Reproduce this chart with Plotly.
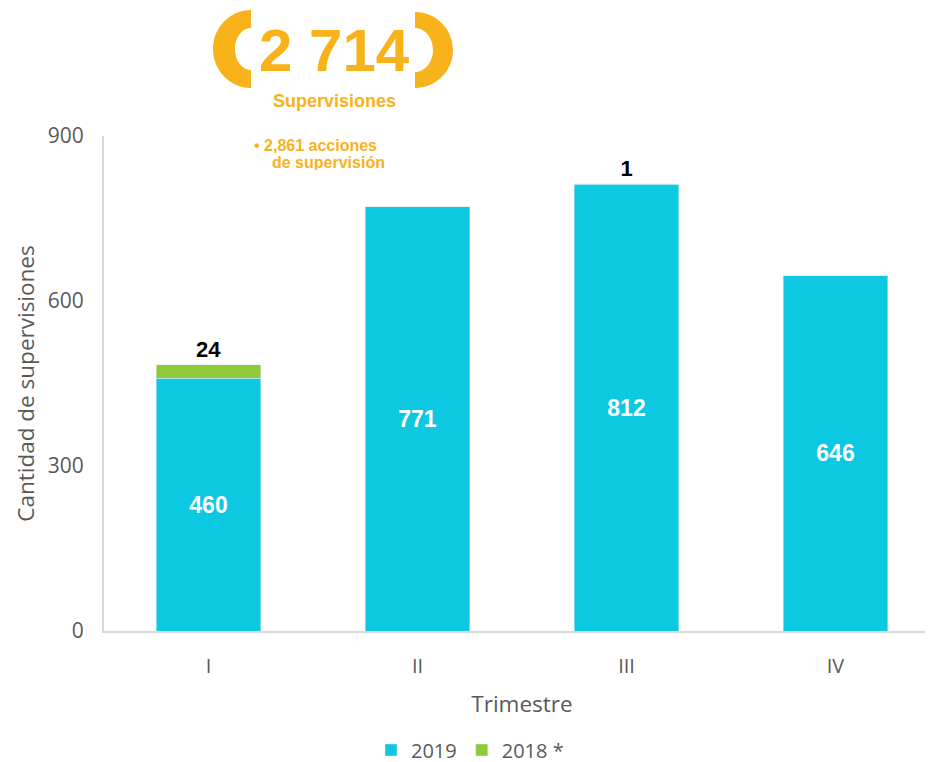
import plotly.graph_objects as go

categories = ["I", "II", "III", "IV"]
values_2019 = [460, 771, 812, 646]
values_2018 = [24, 0, 1, 0]
labels_2018 = ["24", "", "1", ""]
y_ticks = [0, 300, 600, 900]
headline = "2 714"
headline_sub = "Supervisiones"
note_lines = ["• 2,861 acciones", "de supervisión"]

CYAN = "#0CC8E0"
GREEN = "#8CCB3A"
ORANGE = "#F8B21A"
GRAY = "#595959"

W, H = 933, 762
OFF = 8  # page body margin
# plot area in page pixels: x 104..940, y 136..631
ML = 104 - OFF
MT = 136 - OFF
MB = H - (631 - OFF)
MR = W - (940 - OFF)
PW, PH = W - ML - MR, H - MT - MB


def px(x):
    return (x - OFF - ML) / PW


def py(y):
    return (H - MB - (y - OFF)) / PH


def bracket(cx, cy, orx, ory, irx, iry, side):
    k = 0.5523
    s = -1 if side == "left" else 1

    def P(x, y):
        return f"{px(x):.5f},{py(y):.5f}"
    d = (f"M {P(cx, cy - ory)} "
         f"C {P(cx + s*k*orx, cy - ory)} {P(cx + s*orx, cy - k*ory)} {P(cx + s*orx, cy)} "
         f"C {P(cx + s*orx, cy + k*ory)} {P(cx + s*k*orx, cy + ory)} {P(cx, cy + ory)} "
         f"L {P(cx, cy + iry)} "
         f"C {P(cx + s*k*irx, cy + iry)} {P(cx + s*irx, cy + k*iry)} {P(cx + s*irx, cy)} "
         f"C {P(cx + s*irx, cy - k*iry)} {P(cx + s*k*irx, cy - iry)} {P(cx, cy - iry)} Z")
    return dict(type="path", path=d, xref="paper", yref="paper",
                fillcolor=ORANGE, line=dict(width=0), layer="above")


fig = go.Figure()
fig.add_trace(go.Bar(
    x=categories, y=values_2019, name="2019", marker_color=CYAN,
    text=[str(v) for v in values_2019], textposition="inside",
    insidetextanchor="middle",
    textfont=dict(family="Liberation Sans", size=23, color="white",
                  weight="bold"),
    hoverinfo="skip",
))
fig.add_trace(go.Bar(
    x=categories, y=values_2018, name="2018 *", marker_color=GREEN,
    text=labels_2018, textposition="outside",
    textfont=dict(family="Liberation Sans", size=22, color="black",
                  weight="bold"),
    cliponaxis=False, hoverinfo="skip",
))

annotations = [
    dict(text=f"<b>{headline}</b>", x=px(334), y=py(50), xref="paper",
         yref="paper", showarrow=False, xanchor="center", yanchor="middle",
         font=dict(family="Liberation Sans", size=60, color=ORANGE)),
    dict(text=f"<b>{headline_sub}</b>", x=px(334), y=py(101), xref="paper",
         yref="paper", showarrow=False, xanchor="center", yanchor="middle",
         font=dict(family="Liberation Sans", size=18, color=ORANGE)),
]
note_x = [252, 270]
for i, line in enumerate(note_lines):
    annotations.append(dict(
        text=f"<b>{line}</b>",
        x=px(note_x[i]), y=py(145 + 17 * i), xref="paper", yref="paper",
        showarrow=False, xanchor="left", yanchor="middle", align="left",
        height=16, valign="middle",
        font=dict(family="Liberation Sans", size=16, color=ORANGE)))

fig.update_layout(
    width=W, height=H,
    margin=dict(l=ML, r=MR, t=MT, b=MB),
    barmode="stack", bargap=0.5,
    plot_bgcolor="white", paper_bgcolor="white",
    font=dict(family="Open Sans", color=GRAY),
    showlegend=True,
    legend=dict(orientation="h", x=px(470), xanchor="center", y=py(750),
                yanchor="middle", font=dict(size=20, color=GRAY),
                traceorder="normal", itemwidth=30),
    xaxis=dict(range=[-0.5, 3.5], showline=True, linecolor="#D9D9D9",
               linewidth=2, ticks="", tickfont=dict(size=20, color=GRAY),
               ticklabelstandoff=16,
               title=dict(text="Trimestre", font=dict(size=22.5, color=GRAY),
                          standoff=18),
               fixedrange=True),
    yaxis=dict(range=[0, 900], tickvals=y_ticks, showgrid=False,
               showline=True, linecolor="#D9D9D9", linewidth=2,
               zeroline=False, ticks="", ticklabelstandoff=14,
               tickfont=dict(size=21, color=GRAY),
               title=dict(text="Cantidad de supervisiones",
                          font=dict(size=22.5, color=GRAY), standoff=7),
               fixedrange=True),
    shapes=[
        bracket(251, 49, 38, 39, 16, 21, "left"),
        bracket(415, 50, 38, 38, 18, 22, "right"),
    ],
    annotations=annotations,
)

fig.write_html("out.html")
